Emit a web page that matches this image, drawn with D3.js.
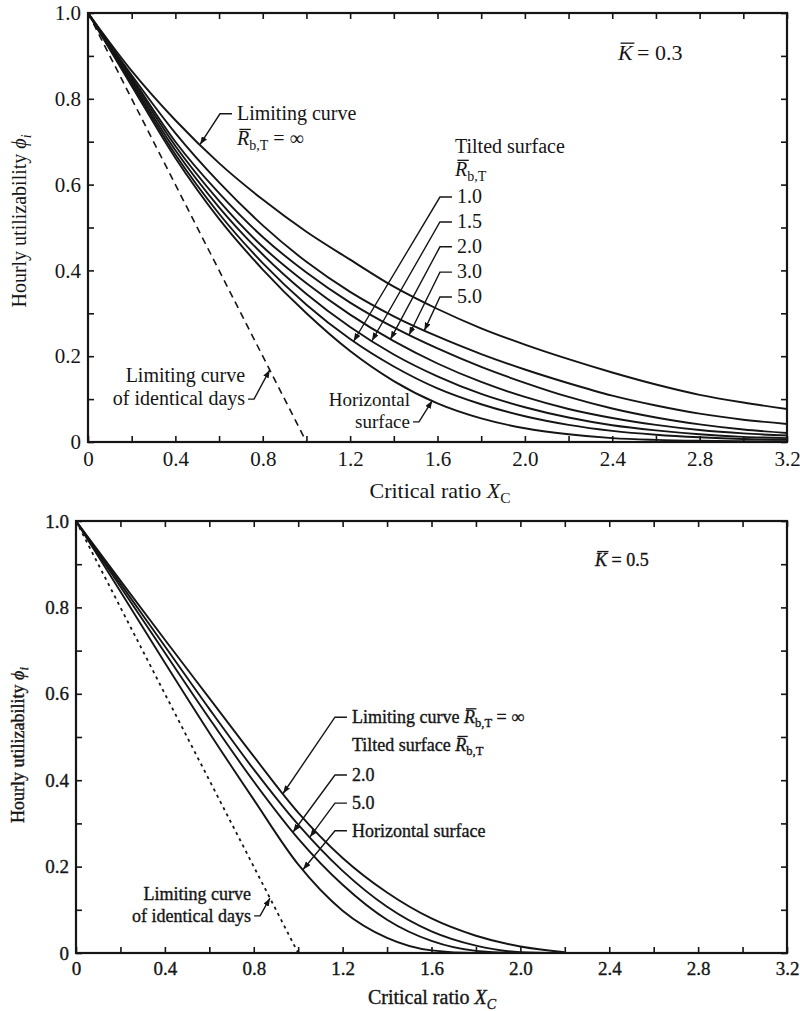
<!DOCTYPE html>
<html>
<head>
<meta charset="utf-8">
<script src="https://cdn.jsdelivr.net/npm/d3@7"></script>
<style>
  body { margin: 0; background: #fff; }
  svg text { font-family: "Liberation Serif", "Times New Roman", serif; }
</style>
</head>
<body>
<svg id="fig" width="800" height="1011"></svg>
<script>
// ---- critical ratio grids ----
const xc   = [0, 0.2, 0.4, 0.6, 0.8, 1.0, 1.2, 1.4, 1.6, 1.8, 2.0, 2.2, 2.4, 2.6, 2.8, 3.0, 3.2];
const xcK5 = [0, 0.2, 0.4, 0.6, 0.8, 1.0, 1.2, 1.4, 1.6, 1.8, 2.0, 2.2];

// ---- hourly utilizability, K = 0.3 ----
const k3Limit      = [1, 0.865, 0.75, 0.65, 0.565, 0.49, 0.425, 0.362, 0.31, 0.265, 0.227, 0.193, 0.162, 0.134, 0.11, 0.092, 0.077];
const k3R50        = [1, 0.855, 0.72, 0.605, 0.505, 0.42, 0.35, 0.293, 0.246, 0.205, 0.169, 0.137, 0.108, 0.085, 0.066, 0.052, 0.042];
const k3R30        = [1, 0.85, 0.70, 0.58, 0.478, 0.395, 0.325, 0.267, 0.218, 0.175, 0.138, 0.105, 0.078, 0.057, 0.041, 0.029, 0.021];
const k3R20        = [1, 0.845, 0.69, 0.562, 0.455, 0.37, 0.297, 0.235, 0.183, 0.14, 0.105, 0.077, 0.056, 0.04, 0.028, 0.02, 0.015];
const k3R15        = [1, 0.84, 0.68, 0.547, 0.437, 0.345, 0.268, 0.204, 0.153, 0.112, 0.081, 0.057, 0.039, 0.027, 0.018, 0.012, 0.009];
const k3R10        = [1, 0.835, 0.67, 0.532, 0.417, 0.32, 0.24, 0.176, 0.125, 0.088, 0.06, 0.04, 0.026, 0.017, 0.011, 0.007, 0.005];
const k3Horizontal = [1, 0.83, 0.662, 0.52, 0.402, 0.30, 0.212, 0.142, 0.09, 0.055, 0.032, 0.018, 0.009, 0.005, 0.003, 0.002, 0.001];

// ---- hourly utilizability, K = 0.5 ----
const k5Limit      = [1, 0.862, 0.725, 0.59, 0.455, 0.325, 0.22, 0.14, 0.08, 0.04, 0.015, 0.002];
const k5R50        = [1, 0.855, 0.71, 0.565, 0.425, 0.297, 0.19, 0.107, 0.05, 0.017, 0.002, 0];
const k5R20        = [1, 0.848, 0.695, 0.543, 0.397, 0.265, 0.158, 0.077, 0.028, 0.005, 0, 0];
const k5Horizontal = [1, 0.837, 0.672, 0.51, 0.355, 0.205, 0.098, 0.035, 0.006, 0, 0, 0];

// ---- limiting curve of identical days ----
const identicalX   = [0, 1];
const identicalPhi = [1, 0];

// ---- ticks ----
const xTickVals = [0, 0.2, 0.4, 0.6, 0.8, 1.0, 1.2, 1.4, 1.6, 1.8, 2.0, 2.2, 2.4, 2.6, 2.8, 3.0, 3.2];
const xTickText = ["0", "", "0.4", "", "0.8", "", "1.2", "", "1.6", "", "2.0", "", "2.4", "", "2.8", "", "3.2"];
const yTickVals = [0, 0.1, 0.2, 0.3, 0.4, 0.5, 0.6, 0.7, 0.8, 0.9, 1.0];
const yTickText = ["0", "", "0.2", "", "0.4", "", "0.6", "", "0.8", "", "1.0"];

const ink = "#151515";
const svg = d3.select("#fig");

svg.append("defs").append("marker")
  .attr("id", "arrowhead")
  .attr("viewBox", "0 -3 8 6")
  .attr("refX", 8).attr("refY", 0)
  .attr("markerWidth", 8).attr("markerHeight", 6)
  .attr("markerUnits", "userSpaceOnUse")
  .attr("orient", "auto")
  .append("path").attr("d", "M0,-3L8,0L0,3Z").attr("fill", ink);

// Text made of pieces: italic, subscript and overbarred runs
function richText(g, x, y, parts, size, anchor, weight) {
  const t = g.append("text")
    .attr("x", x).attr("y", y)
    .attr("font-size", size)
    .attr("fill", ink)
    .attr("text-anchor", anchor || "start");
  if (weight) t.attr("stroke", ink).attr("stroke-width", weight);
  let shift = 0;
  parts.forEach(p => {
    const s = t.append("tspan").text(p.t);
    if (p.it) s.attr("font-style", "italic");
    const target = p.sub ? size * 0.24 : 0;
    if (target !== shift) { s.attr("dy", target - shift); shift = target; }
    if (p.sub) s.attr("font-size", size * 0.7);
  });
  const node = t.node();
  let idx = 0;
  parts.forEach(p => {
    if (p.bar) {
      const a = node.getStartPositionOfChar(idx);
      const b = node.getEndPositionOfChar(idx + p.t.length - 1);
      const yb = a.y - size * 0.66 - 2.5;
      g.append("line")
        .attr("x1", a.x + size * 0.12).attr("x2", b.x + size * 0.08)
        .attr("y1", yb).attr("y2", yb)
        .attr("stroke", ink).attr("stroke-width", 1.3);
    }
    idx += p.t.length;
  });
  return t;
}

function panel(cfg) {
  const x = d3.scaleLinear().domain([0, 3.2]).range([cfg.left, cfg.right]);
  const y = d3.scaleLinear().domain([0, 1]).range([cfg.bottom, cfg.top]);
  const g = svg.append("g");

  const style = sel => {
    sel.attr("font-size", cfg.tickFs).attr("font-family", null).attr("color", ink);
    sel.select(".domain").remove();
    sel.selectAll(".tick line").attr("stroke-width", 1.6);
    if (cfg.weight) sel.selectAll(".tick text").attr("stroke", ink).attr("stroke-width", cfg.weight);
  };
  g.append("g").attr("transform", `translate(0,${cfg.bottom})`)
    .call(d3.axisBottom(x).tickValues(xTickVals).tickFormat((d, i) => xTickText[i])
      .tickSizeInner(-6).tickSizeOuter(0).tickPadding(cfg.xPad))
    .call(style);
  g.append("g").attr("transform", `translate(0,${cfg.top})`)
    .call(d3.axisTop(x).tickValues(xTickVals).tickFormat(() => "")
      .tickSizeInner(-6).tickSizeOuter(0))
    .call(style);
  g.append("g").attr("transform", `translate(${cfg.left},0)`)
    .call(d3.axisLeft(y).tickValues(yTickVals).tickFormat((d, i) => yTickText[i])
      .tickSizeInner(-6).tickSizeOuter(0).tickPadding(cfg.yPad))
    .call(style);
  g.append("g").attr("transform", `translate(${cfg.right},0)`)
    .call(d3.axisRight(y).tickValues(yTickVals).tickFormat(() => "")
      .tickSizeInner(-6).tickSizeOuter(0))
    .call(style);

  g.append("rect")
    .attr("x", cfg.left).attr("y", cfg.top)
    .attr("width", cfg.right - cfg.left).attr("height", cfg.bottom - cfg.top)
    .attr("fill", "none").attr("stroke", ink).attr("stroke-width", 2.2);

  const line = d3.line().x(d => x(d[0])).y(d => y(d[1])).curve(d3.curveMonotoneX);
  cfg.series.forEach(s => {
    g.append("path").attr("d", line(d3.zip(cfg.xs, s)))
      .attr("fill", "none").attr("stroke", ink).attr("stroke-width", 1.9);
  });
  g.append("path").attr("d", d3.line().x(d => x(d[0])).y(d => y(d[1]))(d3.zip(identicalX, identicalPhi)))
    .attr("fill", "none").attr("stroke", ink).attr("stroke-width", cfg.dashW)
    .attr("stroke-dasharray", cfg.dash);

  // axis titles
  const yt = g.append("g").attr("transform", `translate(${cfg.yTitle[0]},${cfg.yTitle[1]}) rotate(-90)`);
  richText(yt, 0, 0, [{ t: "Hourly utilizability " }, { t: "\u03D5", it: true }, { t: "i", it: true, sub: true }], cfg.fs, "middle", cfg.weight);
  richText(g, cfg.xTitle[0], cfg.xTitle[1], [{ t: "Critical ratio " }, { t: "X", it: true }, { t: "C", it: cfg.subIt, sub: true }], cfg.xTitleFs, "middle", cfg.weight);

  return { g, x, y };
}

// point on a series at critical ratio xv
function onCurve(xs, s, xv) {
  return d3.scaleLinear().domain(xs).range(s)(xv);
}

// label with a leader: short horizontal stub on the left, then a line to the curve
function leftLeader(p, textX, baseline, tip) {
  const yy = baseline - 6;
  p.g.append("path")
    .attr("d", `M${textX - 5},${yy}H${textX - 17}L${p.x(tip[0])},${p.y(tip[1])}`)
    .attr("fill", "none").attr("stroke", ink).attr("stroke-width", 1.4)
    .attr("marker-end", "url(#arrowhead)");
}
// leader leaving the end of a right-aligned label
function rightLeader(p, textX, baseline, tip) {
  const yy = baseline - 6;
  p.g.append("path")
    .attr("d", `M${textX + 3},${yy}H${textX + 9}L${p.x(tip[0])},${p.y(tip[1])}`)
    .attr("fill", "none").attr("stroke", ink).attr("stroke-width", 1.4)
    .attr("marker-end", "url(#arrowhead)");
}

// ================= K = 0.3 =================
const panelK3 = panel({
  left: 88, right: 787, top: 13, bottom: 442, fs: 20, tickFs: 21, xTitleFs: 22, xPad: 9, yPad: 7,
  xs: xc, series: [k3Limit, k3R50, k3R30, k3R20, k3R15, k3R10, k3Horizontal],
  dash: "7,5", dashW: 1.6, yTitle: [26, 221], xTitle: [440, 498], subIt: false
});
{
  const p = panelK3, fs = 20, X = v => p.x(v), Y = v => p.y(v);
  const rb = [{ t: "R", it: true, bar: true }, { t: "b,T", sub: true }];
  richText(p.g, X(2.426), Y(0.890), [{ t: "K", it: true, bar: true }, { t: "\u2009= 0.3" }], 22);

  richText(p.g, X(0.682), Y(0.751), [{ t: "Limiting curve" }], fs);
  richText(p.g, X(0.682), Y(0.692), rb.concat([{ t: " = \u221E" }]), fs);
  leftLeader(p, X(0.682), Y(0.751), [0.513, onCurve(xc, k3Limit, 0.513)]);

  richText(p.g, X(1.680), Y(0.674), [{ t: "Tilted surface" }], fs);
  richText(p.g, X(1.680), Y(0.620), rb, fs);
  const k3Labels = ["1.0", "1.5", "2.0", "3.0", "5.0"];
  const k3LabelPhi = [0.557, 0.499, 0.441, 0.382, 0.324];
  const k3Curves = [k3R10, k3R15, k3R20, k3R30, k3R50];
  const k3TipX = [1.216, 1.30, 1.385, 1.47, 1.54];
  k3Labels.forEach((lab, i) => {
    richText(p.g, X(1.689), Y(k3LabelPhi[i]), [{ t: lab }], fs);
    leftLeader(p, X(1.689), Y(k3LabelPhi[i]), [k3TipX[i], onCurve(xc, k3Curves[i], k3TipX[i])]);
  });

  richText(p.g, X(0.719), Y(0.140), [{ t: "Limiting curve" }], fs, "end");
  richText(p.g, X(0.719), Y(0.086), [{ t: "of identical days" }], fs, "end");
  rightLeader(p, X(0.719), Y(0.086), [0.832, onCurve(identicalX, identicalPhi, 0.832)]);

  richText(p.g, X(1.474), Y(0.084), [{ t: "Horizontal" }], 19, "end");
  richText(p.g, X(1.474), Y(0.033), [{ t: "surface" }], 19, "end");
  rightLeader(p, X(1.474), Y(0.033), [1.576, onCurve(xc, k3Horizontal, 1.576)]);
}

// ================= K = 0.5 =================
const panelK5 = panel({
  left: 76, right: 787, top: 521, bottom: 953, fs: 18, tickFs: 19, xTitleFs: 20, xPad: 9, yPad: 7,
  xs: xcK5, series: [k5Limit, k5R50, k5R20, k5Horizontal], weight: 0.35,
  dash: "3,4", dashW: 1.8, yTitle: [24, 745], xTitle: [432, 1004], subIt: true
});
{
  const p = panelK5, fs = 18, w = 0.35, X = v => p.x(v), Y = v => p.y(v);
  const rb = [{ t: "R", it: true, bar: true }, { t: "b,T", sub: true }];
  richText(p.g, X(2.336), Y(0.896), [{ t: "K", it: true, bar: true }, { t: " = 0.5" }], fs, "start", w);

  richText(p.g, X(1.242), Y(0.532), [{ t: "Limiting curve " }].concat(rb, [{ t: " = \u221E" }]), fs, "start", w);
  leftLeader(p, X(1.242), Y(0.532), [0.932, onCurve(xcK5, k5Limit, 0.932)]);
  richText(p.g, X(1.242), Y(0.468), [{ t: "Tilted surface " }].concat(rb), fs, "start", w);

  const k5Labels = ["2.0", "5.0", "Horizontal surface"];
  const k5LabelPhi = [0.398, 0.333, 0.269];
  const k5Curves = [k5R20, k5R50, k5Horizontal];
  const k5TipX = [0.977, 1.053, 1.022];
  k5Labels.forEach((lab, i) => {
    richText(p.g, X(1.242), Y(k5LabelPhi[i]), [{ t: lab }], fs, "start", w);
    leftLeader(p, X(1.242), Y(k5LabelPhi[i]), [k5TipX[i], onCurve(xcK5, k5Curves[i], k5TipX[i])]);
  });

  richText(p.g, X(0.788), Y(0.123), [{ t: "Limiting curve" }], fs, "end", w);
  richText(p.g, X(0.788), Y(0.072), [{ t: "of identical days" }], fs, "end", w);
  rightLeader(p, X(0.788), Y(0.072), [0.873, onCurve(identicalX, identicalPhi, 0.873)]);
}
</script>
</body>
</html>
